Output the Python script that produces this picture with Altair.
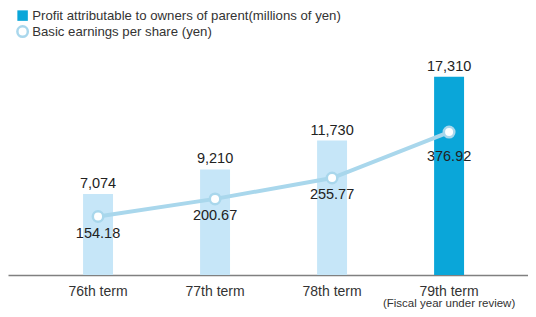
import altair as alt
import pandas as pd

terms = ["76th term", "77th term", "78th term", "79th term"]
profit = [7074, 9210, 11730, 17310]
eps = [154.18, 200.67, 255.77, 376.92]
is_current = [False, False, False, True]

PROFIT_LABEL = "Profit attributable to owners of parent(millions of yen)"
EPS_LABEL = "Basic earnings per share (yen)"
DARK = "#0aa6d9"
LIGHT = "#c6e6f8"
LINE = "#a9d7ec"
FONT = "Liberation Sans"

df = pd.DataFrame({
    "term": terms,
    "profit": profit,
    "eps": eps,
    "kind": [PROFIT_LABEL if c else "prior" for c in is_current],
    "eps_series": [EPS_LABEL] * len(terms),
    "profit_text": [f"{v:,}" for v in profit],
    "eps_text": [f"{v:.2f}" for v in eps],
    "note": ["(Fiscal year under review)" if c else "" for c in is_current],
    "current": is_current,
})

x = alt.X("term:N", sort=terms, title=None,
          scale=alt.Scale(paddingInner=0.744, paddingOuter=0.594, align=0.54),
          axis=alt.Axis(labelFontSize=14, labelColor="#333333", labelFont=FONT,
                        labelPadding=9, ticks=False, domainColor="#808080",
                        domainWidth=1.5, labelAngle=0))

yb = alt.Y("profit:Q", scale=alt.Scale(domain=[0, 23300]), axis=None)
ye = alt.Y("eps:Q", scale=alt.Scale(domain=[0, 704]), axis=None)

base = alt.Chart(df)

legend_common = dict(title=None, orient="none", legendX=8, symbolSize=110,
                     labelFontSize=13.2, labelColor="#333333", labelFont=FONT,
                     labelOffset=3, labelLimit=0, padding=0)

bars = base.mark_bar().encode(
    x=x, y=yb,
    color=alt.Color("kind:N",
                    scale=alt.Scale(domain=[PROFIT_LABEL, "prior"], range=[DARK, LIGHT]),
                    legend=alt.Legend(values=[PROFIT_LABEL], legendY=1,
                                      symbolType="square", **legend_common)),
)
bar_text = base.mark_text(baseline="bottom", dy=-3, fontSize=14.5, font=FONT,
                          color="#222222").encode(x=x, y=yb, text="profit_text:N")
note_text = base.mark_text(baseline="middle", dy=29, fontSize=11.5, font=FONT,
                           color="#333333").encode(
    x=x, y=alt.value({"expr": "height"}), text="note:N")

bar_layer = alt.layer(bars, bar_text, note_text)

line = base.mark_line(strokeWidth=4, color=LINE).encode(x=x, y=ye)
points = base.mark_point(filled=True, fill="white", strokeWidth=2.5, size=110,
                         opacity=1).encode(
    x=x, y=ye,
    stroke=alt.Stroke("eps_series:N", scale=alt.Scale(range=[LINE]),
                      legend=alt.Legend(legendY=17, symbolType="circle",
                                        symbolFillColor="white",
                                        symbolStrokeWidth=2.5, **legend_common)),
)
eps_text_past = base.transform_filter("!datum.current").mark_text(
    baseline="top", dy=10, fontSize=14.5, font=FONT, color="#222222"
).encode(x=x, y=ye, text="eps_text:N")
eps_text_cur = base.transform_filter("datum.current").mark_text(
    baseline="top", dy=18, fontSize=14.5, font=FONT, color="#222222"
).encode(x=x, y=ye, text="eps_text:N")

line_layer = alt.layer(line, points, eps_text_past, eps_text_cur)

chart = alt.layer(bar_layer, line_layer).resolve_scale(y="independent").properties(
    width=520, height=267,
    autosize=alt.AutoSizeParams(type="none"),
    padding={"left": 0, "right": 0, "top": 0, "bottom": 34},
).configure_view(stroke=None)

chart.save("out.html", embed_options={"renderer": "svg", "actions": False})
